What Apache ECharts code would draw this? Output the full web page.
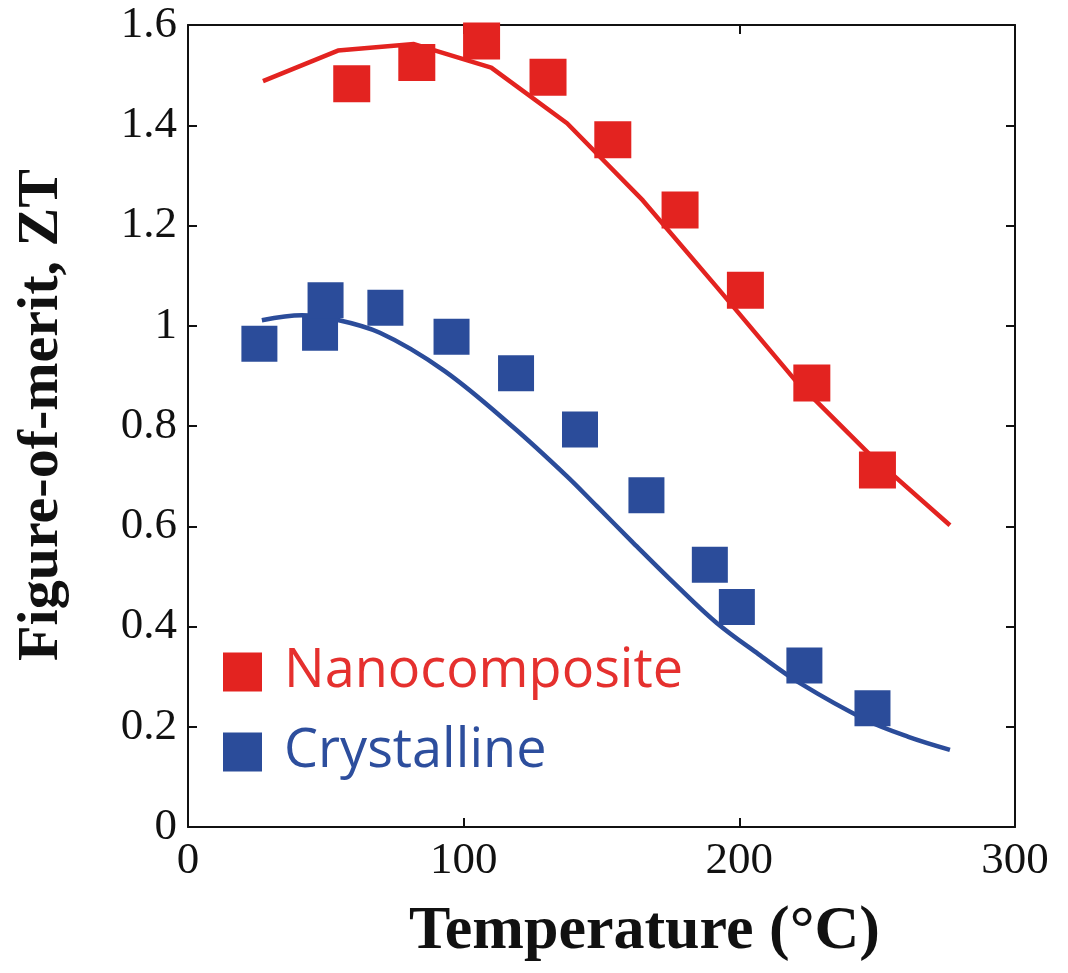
<!DOCTYPE html>
<html>
<head>
<meta charset="utf-8">
<script src="https://cdn.jsdelivr.net/npm/echarts@6/dist/echarts.min.js"></script>
<style>
html,body{margin:0;padding:0;background:#fff;}
#chart{width:1068px;height:973px;}
</style>
</head>
<body>
<div id="chart"></div>
<script>
// Measured data: Nanocomposite (red) and Crystalline (blue)
var redT  = [59.4, 83, 106.5, 130.6, 154.1, 178.5, 202.2, 226.3, 250.1];
var redZT = [1.483, 1.525, 1.568, 1.496, 1.371, 1.231, 1.071, 0.886, 0.712];

var blueT  = [25.9, 47.9, 49.9, 71.6, 95.6, 119, 142.2, 166.3, 189.3, 199.1, 223.6, 248.3];
var blueZT = [0.964, 0.986, 1.051, 1.036, 0.978, 0.905, 0.793, 0.662, 0.523, 0.439, 0.322, 0.237];

// Model curves
var redFitT  = [27.2, 54.4, 82, 110, 137.5, 165, 192, 220, 247, 276.4];
var redFitZT = [1.488, 1.549, 1.562, 1.515, 1.404, 1.25, 1.076, 0.893, 0.745, 0.602];

var blueFitT  = [26.8, 41.3, 51.5, 69.6, 93, 117.9, 137.4, 148.3, 161.5, 176.6, 191.8, 206.9, 222, 246.2, 261.3, 276.4];
var blueFitZT = [1.011, 1.021, 1.015, 0.986, 0.91, 0.798, 0.70, 0.64, 0.567, 0.485, 0.407, 0.345, 0.287, 0.213, 0.18, 0.154];

var xTicks = [0, 100, 200, 300];
var yTicks = [0, 0.2, 0.4, 0.6, 0.8, 1, 1.2, 1.4, 1.6];

var seriesNames = ['Nanocomposite', 'Crystalline'];

function zip(a, b) { return a.map(function (v, i) { return [v, b[i]]; }); }

var RED = '#E32320', BLUE = '#2B4C9A';
var RED_TXT = '#E5302E', BLUE_TXT = '#2D4E9D';
var serif = '"Liberation Serif", "Times New Roman", serif';

var chart = echarts.init(document.getElementById('chart'));
var axisCommon = {
  axisLine: { show: true, onZero: false, lineStyle: { color: '#111', width: 2 } },
  axisTick: { show: true, inside: true, length: 9, lineStyle: { color: '#111', width: 2 } },
  splitLine: { show: false }
};

chart.setOption({
  backgroundColor: '#fff',
  animation: false,
  grid: { left: 188, right: 53, top: 25, bottom: 146, containLabel: false },
  xAxis: [
    Object.assign({
      type: 'value', position: 'bottom', min: xTicks[0], max: xTicks[xTicks.length - 1], interval: 100,
      axisLabel: { fontFamily: serif, fontSize: 45, color: '#111', margin: 12 },
      name: 'Temperature (°C)', nameLocation: 'middle', nameGap: 74,
      nameTextStyle: { fontFamily: serif, fontWeight: 'bold', fontSize: 62, color: '#111', padding: [0, 0, 0, 86] }
    }, axisCommon),
    Object.assign({
      type: 'value', position: 'top', min: xTicks[0], max: xTicks[xTicks.length - 1], interval: 100,
      axisLabel: { show: false }
    }, axisCommon)
  ],
  yAxis: [
    Object.assign({
      type: 'value', position: 'left', min: yTicks[0], max: yTicks[yTicks.length - 1], interval: 0.2,
      axisLabel: { fontFamily: serif, fontSize: 45, color: '#111', margin: 11 },
      name: 'Figure-of-merit, ZT', nameLocation: 'middle', nameGap: 117, nameRotate: 90,
      nameTextStyle: { fontFamily: serif, fontWeight: 'bold', fontSize: 58, color: '#111', padding: [0, 0, 0, 22] }
    }, axisCommon),
    Object.assign({
      type: 'value', position: 'right', min: yTicks[0], max: yTicks[yTicks.length - 1], interval: 0.2,
      axisLabel: { show: false }
    }, axisCommon)
  ],
  legend: {
    orient: 'vertical', left: 223, top: 645, padding: 0,
    itemWidth: 39, itemHeight: 39, itemGap: 26, icon: 'rect',
    textStyle: { fontFamily: '"Open Sans", sans-serif', fontSize: 54, lineHeight: 39, padding: [0, 0, 0, 17] },
    data: [
      { name: seriesNames[0], textStyle: { color: RED_TXT } },
      { name: seriesNames[1], textStyle: { color: BLUE_TXT } }
    ]
  },
  series: [
    {
      name: 'Nanocomposite fit', type: 'line', data: zip(redFitT, redFitZT),
      showSymbol: false, smooth: false, lineStyle: { color: RED, width: 4.5 }, itemStyle: { color: RED }, z: 2
    },
    {
      name: 'Crystalline fit', type: 'line', data: zip(blueFitT, blueFitZT),
      showSymbol: false, smooth: 0.35, lineStyle: { color: BLUE, width: 4.5 }, itemStyle: { color: BLUE }, z: 2
    },
    {
      name: seriesNames[0], type: 'scatter', data: zip(redT, redZT),
      symbol: 'rect', symbolSize: 37, itemStyle: { color: RED, opacity: 1 }, z: 3
    },
    {
      name: seriesNames[1], type: 'scatter', data: zip(blueT, blueZT),
      symbol: 'rect', symbolSize: 36, itemStyle: { color: BLUE, opacity: 1 }, z: 3
    }
  ]
});
</script>
</body>
</html>
